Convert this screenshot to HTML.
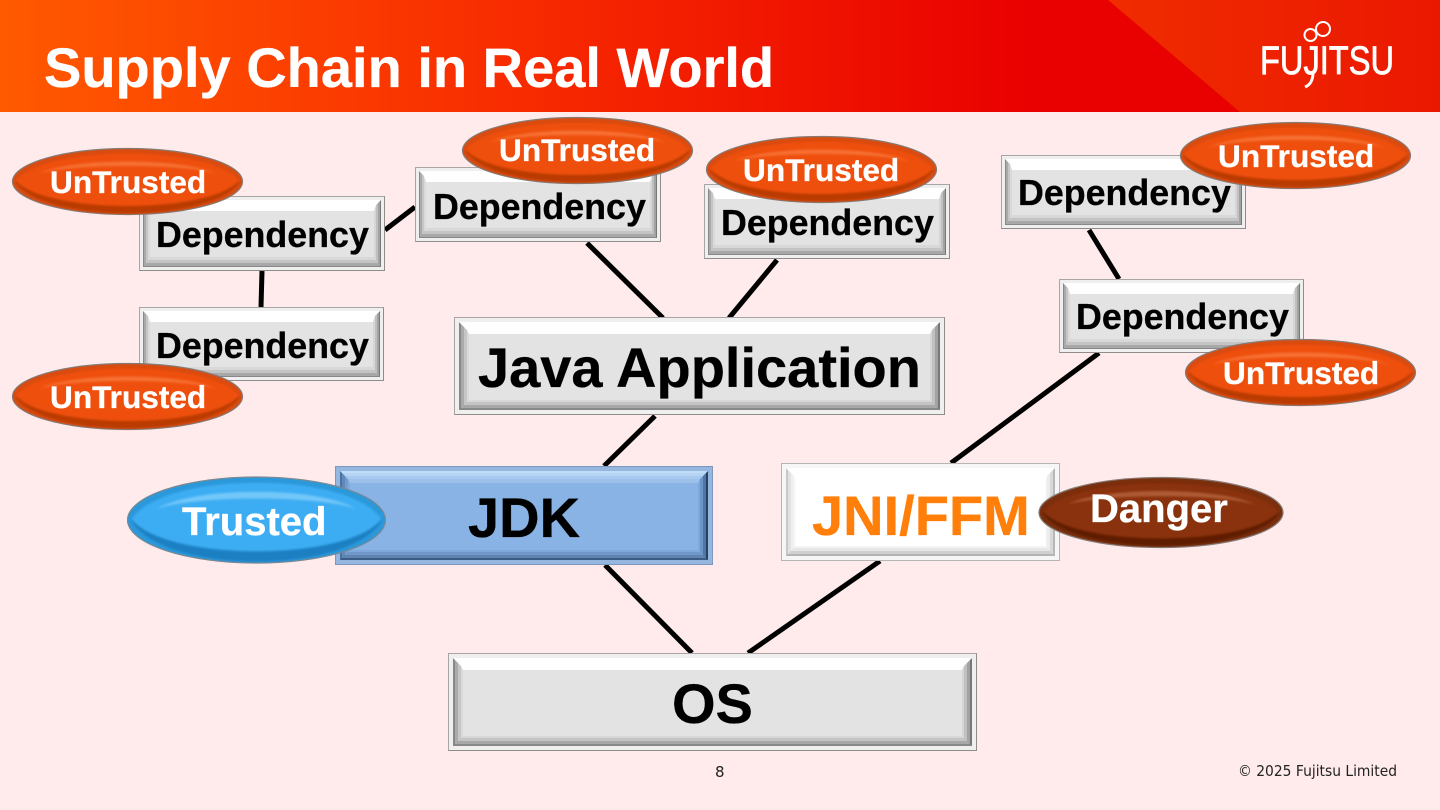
<!DOCTYPE html>
<html><head><meta charset="utf-8"><style>
html,body{margin:0;padding:0;width:1440px;height:810px;overflow:hidden;background:#ffebeb}
svg{position:absolute;left:0;top:0}
.b{position:absolute;box-sizing:border-box;border:1px solid #a9a5a5;border-right-color:#8f8c8c;border-bottom-color:#8f8c8c;padding:3px;background:#efefef}
.b div{box-sizing:border-box;width:100%;height:100%;border-style:solid}
.b .a{border-width:1px;border-color:#fff #777 #888 #888}
.b .c{border-width:2px 2px 3px 2px;border-color:#fff #a2a2a2 #a8a8a8 #aaa}
.b .d{border-width:2px 2px 3px 2px;border-color:#fff #c0c0c0 #c4c4c4 #c6c6c6}
.b .e{border-width:6px 2px 3px 2px;border-color:#fff #d6d6d6 #d8d8d8 #dadada;background:#e3e3e3}
.l{padding:4px}
.l .a{border-width:2px}
.l .c{border-width:3px}
.l .d{border-width:3px}
.l .e{border-width:4px 2px 2px 2px}
.blue{background:#94b6df;border-color:#7d98bb}
.blue .a{border-color:#c0dcf8 #24415f #3a5c85 #4a73a3}
.blue .c{border-color:#b6d5f5 #4f76a6 #5f84b2 #6089b9}
.blue .d{border-color:#a9caf0 #6c95c7 #7099c9 #749dce}
.blue .e{border-color:#9dc1ea #7fa9db #80a9db #82abdc;background:#88b3e4}
.white{background:#f6f6f6;border-color:#b5b5b5}
.white .a{border-color:#fff #b8b8b8 #b4b4b4 #c8c8c8}
.white .c{border-color:#fff #d8d8d8 #d0d0d0 #e2e2e2}
.white .d{border-color:#fff #ececec #e6e6e6 #f0f0f0}
.white .e{border-color:#fff #f8f8f8 #f4f4f4 #fafafa;background:#fff}
</style></head><body>
<svg width="1440" height="810" viewBox="0 0 1440 810">
<defs>
<linearGradient id="h" x1="0" x2="1" y1="0" y2="0"><stop offset="0" stop-color="#ff5a00"/><stop offset=".35" stop-color="#f82c00"/><stop offset=".72" stop-color="#e90000"/><stop offset="1" stop-color="#e90000"/></linearGradient>
<linearGradient id="h2" x1="0" x2="1" y1="0" y2="0"><stop offset="0" stop-color="#f02c00"/><stop offset="1" stop-color="#eb1800"/></linearGradient>
</defs>
<rect x="0" y="0" width="1440" height="112" fill="url(#h)"/>
<polygon points="1108,0 1440,0 1440,112 1240,112" fill="url(#h2)"/>
<g stroke="#000" stroke-width="5" fill="none">
<line x1="385" y1="230" x2="415" y2="207"/>
<line x1="262" y1="271" x2="261" y2="307"/>
<line x1="587" y1="243" x2="663" y2="318"/>
<line x1="777" y1="260" x2="729" y2="318"/>
<line x1="655" y1="416" x2="604" y2="466"/>
<line x1="1089" y1="230" x2="1119" y2="279"/>
<line x1="1099" y1="353" x2="951" y2="463"/>
<line x1="605" y1="565" x2="692" y2="653"/>
<line x1="880" y1="561" x2="748" y2="653"/>
</g>
</svg>
<div class="b" style="left:139px;top:196px;width:246px;height:75px"><div class="a"><div class="c"><div class="d"><div class="e"></div></div></div></div></div>
<div class="b" style="left:415px;top:167px;width:246px;height:75px"><div class="a"><div class="c"><div class="d"><div class="e"></div></div></div></div></div>
<div class="b" style="left:704px;top:184px;width:246px;height:75px"><div class="a"><div class="c"><div class="d"><div class="e"></div></div></div></div></div>
<div class="b" style="left:1001px;top:155px;width:245px;height:74px"><div class="a"><div class="c"><div class="d"><div class="e"></div></div></div></div></div>
<div class="b" style="left:1059px;top:279px;width:245px;height:74px"><div class="a"><div class="c"><div class="d"><div class="e"></div></div></div></div></div>
<div class="b" style="left:139px;top:307px;width:245px;height:74px"><div class="a"><div class="c"><div class="d"><div class="e"></div></div></div></div></div>
<div class="b l" style="left:454px;top:317px;width:491px;height:98px"><div class="a"><div class="c"><div class="d"><div class="e"></div></div></div></div></div>
<div class="b l blue" style="left:335px;top:466px;width:378px;height:99px"><div class="a"><div class="c"><div class="d"><div class="e"></div></div></div></div></div>
<div class="b l white" style="left:781px;top:463px;width:279px;height:98px"><div class="a"><div class="c"><div class="d"><div class="e"></div></div></div></div></div>
<div class="b l" style="left:448px;top:653px;width:529px;height:98px"><div class="a"><div class="c"><div class="d"><div class="e"></div></div></div></div></div>
<svg width="1440" height="810" viewBox="0 0 1440 810">
<defs>
<filter id="s" x="-20%" y="-40%" width="140%" height="180%"><feGaussianBlur stdDeviation="1"/></filter>
<g id="u">
<ellipse rx="115" ry="33" fill="#d84c12" stroke="#857a74" stroke-width="1.2"/>
<path d="M-112,1 C-82,-38 82,-38 112,1 C82,42 -82,42 -112,1Z" fill="#b93a00" filter="url(#s)"/>
<path d="M-112,-1 C-82,-38 82,-38 112,-1 C82,33 -82,33 -112,-1Z" fill="#ef4f0c" filter="url(#s)"/>
<path d="M-88,-8 C-55,-24 55,-24 88,-8 C55,-18 -55,-18 -88,-8Z" fill="#ff9a62" opacity=".45" filter="url(#s)"/>
</g>
<g id="t">
<ellipse rx="129" ry="43" fill="#2b98da" stroke="#7a8994" stroke-width="1.2"/>
<path d="M-125,1 C-92,-50 92,-50 125,1 C92,55 -92,55 -125,1Z" fill="#1f7fc2" filter="url(#s)"/>
<path d="M-125,-1 C-92,-50 92,-50 125,-1 C92,42 -92,42 -125,-1Z" fill="#3cadf3" filter="url(#s)"/>
<path d="M-100,-11 C-62,-34 62,-34 100,-11 C62,-25 -62,-25 -100,-11Z" fill="#a8e2ff" opacity=".5" filter="url(#s)"/>
</g>
<g id="d">
<ellipse rx="122" ry="35" fill="#7a300e" stroke="#857a74" stroke-width="1.2"/>
<path d="M-118,1 C-87,-40 87,-40 118,1 C87,44 -87,44 -118,1Z" fill="#5e1e02" filter="url(#s)"/>
<path d="M-118,-1 C-87,-40 87,-40 118,-1 C87,35 -87,35 -118,-1Z" fill="#8a3208" filter="url(#s)"/>
<path d="M-94,-8 C-58,-26 58,-26 94,-8 C58,-19 -58,-19 -94,-8Z" fill="#d98f66" opacity=".45" filter="url(#s)"/>
</g>
</defs>
<use href="#u" x="127.500" y="181.500"/>
<use href="#u" x="577.500" y="150.500"/>
<use href="#u" x="821.500" y="169.500"/>
<use href="#u" x="1295.500" y="155.500"/>
<use href="#u" x="127.500" y="396.500"/>
<use href="#u" x="1300.500" y="372.500"/>
<use href="#t" x="256.500" y="520"/>
<use href="#d" x="1161" y="512.500"/>
<g font-family="'Liberation Sans',sans-serif" font-weight="700">
<text x="44" y="87" font-size="56" fill="#fff" stroke="#fff" stroke-width=".3">Supply Chain in Real World</text>
<g font-size="35.800" fill="#000" stroke="#000" stroke-width=".3">
<text x="156" y="247">Dependency</text>
<text x="433" y="219">Dependency</text>
<text x="721" y="235">Dependency</text>
<text x="1018" y="205">Dependency</text>
<text x="1076" y="329">Dependency</text>
<text x="156" y="358">Dependency</text>
</g>
<g font-size="56" stroke-width=".3">
<text x="478" y="387" fill="#000" stroke="#000">Java Application</text>
<text x="468" y="537" fill="#000" stroke="#000">JDK</text>
<text x="812" y="535" fill="#ff7f0a" stroke="#ff7f0a">JNI/FFM</text>
<text x="672" y="723" fill="#000" stroke="#000">OS</text>
</g>
<g font-size="31.600" fill="#fff" stroke="#fff" stroke-width=".3">
<text x="50" y="193">UnTrusted</text>
<text x="499" y="161">UnTrusted</text>
<text x="743" y="181">UnTrusted</text>
<text x="1218" y="167">UnTrusted</text>
<text x="50" y="408">UnTrusted</text>
<text x="1223" y="384">UnTrusted</text>
</g>
<g font-size="40" fill="#fff" stroke="#fff" stroke-width=".3">
<text x="182" y="535">Trusted</text>
<text x="1090" y="522">Danger</text>
</g>
</g>
<g font-family="'DejaVu Sans',sans-serif" fill="#222">
<text x="715" y="777" font-size="15">8</text>
<text x="1238" y="776" font-size="15" textLength="159" lengthAdjust="spacingAndGlyphs">© 2025 Fujitsu Limited</text>
</g>
<text x="1260" y="74" font-family="'Liberation Sans',sans-serif" font-size="40" fill="#fff" stroke="#fff" stroke-width=".8" textLength="134" lengthAdjust="spacingAndGlyphs">FUJITSU</text>
<path d="M1313,72 C1313,81 1310,85 1305,87" fill="none" stroke="#fff" stroke-width="3"/>
<g fill="none" stroke="#fff" stroke-width="2">
<circle cx="1310.500" cy="35" r="6"/>
<circle cx="1323" cy="29" r="7"/>
</g>
</svg>
</body></html>
